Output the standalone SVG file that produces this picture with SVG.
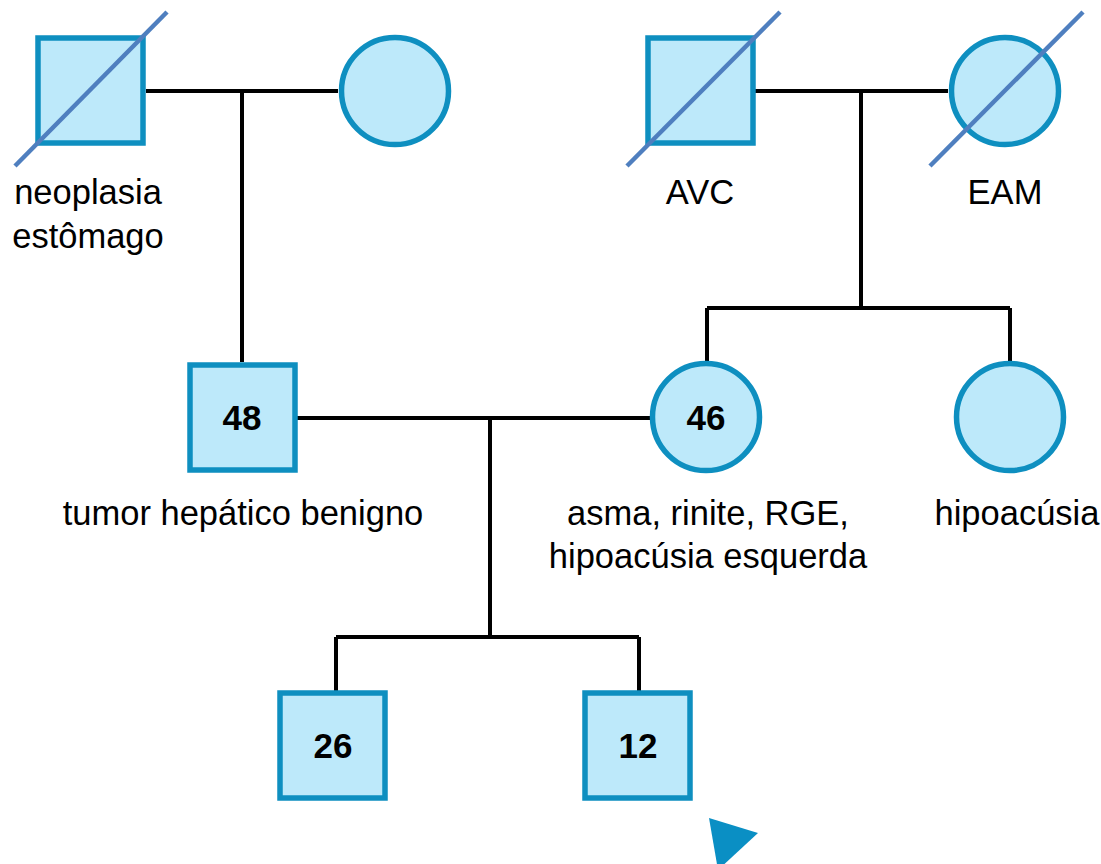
<svg xmlns="http://www.w3.org/2000/svg" width="1101" height="864" viewBox="0 0 1101 864">
<style>
.p{fill:#bde9fa;stroke:#0e8fc0;stroke-width:5.5}
.d{stroke:#4f7fbf;stroke-width:4.5;fill:none}
.c{stroke:#000;stroke-width:4;fill:none}
.l{font-family:"Liberation Sans",Arial,sans-serif;font-size:34.5px;fill:#000;text-anchor:middle}
.n{font-family:"Liberation Sans",Arial,sans-serif;font-size:35px;font-weight:bold;fill:#000;text-anchor:middle}
</style>
<rect width="1101" height="864" fill="#fff"/>
<g id="connectors">
<path class="c" d="M146 91H338M242 91V362"/>
<path class="c" d="M755 91H948M861 91V308M707 308H1010M707 308V362M1010 308V362"/>
<path class="c" d="M297 418H650M490 418V637M336 637H639M336 637V691M639 637V691"/>
</g>
<g id="gf1">
<rect class="p" x="38" y="38" width="105" height="105"/>
<line class="d" x1="15" y1="166" x2="167" y2="12"/>
<text class="l" x="88" y="204">neoplasia</text>
<text class="l" x="88" y="248">estômago</text>
</g>
<g id="gm1">
<circle class="p" cx="395" cy="91" r="53.5"/>
</g>
<g id="gf2">
<rect class="p" x="648" y="38" width="105" height="105"/>
<line class="d" x1="627" y1="166" x2="780" y2="12"/>
<text class="l" x="700" y="204">AVC</text>
</g>
<g id="gm2">
<circle class="p" cx="1005" cy="91" r="53.5"/>
<line class="d" x1="930" y1="166" x2="1083" y2="12"/>
<text class="l" x="1005" y="204">EAM</text>
</g>
<g id="father">
<rect class="p" x="190" y="365" width="105" height="105"/>
<text class="n" x="242" y="430">48</text>
<text class="l" x="243" y="525">tumor hepático benigno</text>
</g>
<g id="mother">
<circle class="p" cx="706" cy="417" r="53.5"/>
<text class="n" x="706" y="430">46</text>
<text class="l" x="708" y="525">asma, rinite, RGE,</text>
<text class="l" x="708" y="568">hipoacúsia esquerda</text>
</g>
<g id="aunt">
<circle class="p" cx="1010" cy="417" r="53.5"/>
<text class="l" x="1017" y="525">hipoacúsia</text>
</g>
<g id="son1">
<rect class="p" x="280" y="693" width="105" height="105"/>
<text class="n" x="333" y="758">26</text>
</g>
<g id="son2">
<rect class="p" x="585" y="693" width="105" height="105"/>
<text class="n" x="638" y="758">12</text>
</g>
<g id="proband-marker">
<polygon points="709,818 758,833 718,870" fill="#0a8fc4"/>
</g>
</svg>
